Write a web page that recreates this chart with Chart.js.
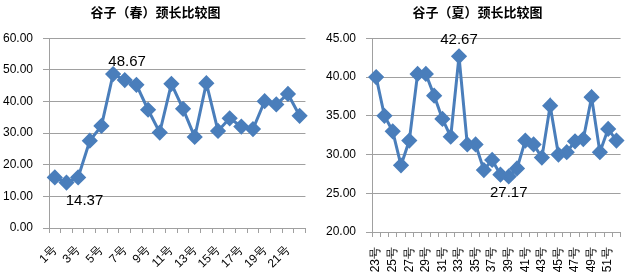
<!DOCTYPE html>
<html>
<head>
<meta charset="utf-8">
<script src="https://cdn.jsdelivr.net/npm/chart.js@4"></script>
<style>
  body { margin: 0; background: #fff; }
  .box { position: absolute; top: 0; height: 279px; }
  #b1 { left: 0; width: 320px; }
  #b2 { left: 320px; width: 321px; }
</style>
</head>
<body>
<div class="box" id="b1"><canvas id="chartSpring"></canvas></div>
<div class="box" id="b2"><canvas id="chartSummer"></canvas></div>
<script>
const springLabels = ["1号", "2号", "3号", "4号", "5号", "6号", "7号", "8号", "9号", "10号", "11号",
  "12号", "13号", "14号", "15号", "16号", "17号", "18号", "19号", "20号", "21号", "22号"];
const springValues = [16.0, 14.37, 16.0, 27.6, 32.3, 48.67, 46.8, 45.3, 37.4, 30.2, 45.6,
  37.7, 28.8, 45.8, 30.7, 34.7, 32.1, 31.3, 40.1, 39.1, 42.4, 35.5];

const summerLabels = ["23号", "24号", "25号", "26号", "27号", "28号", "29号", "30号", "31号", "32号",
  "33号", "34号", "35号", "36号", "37号", "38号", "39号", "40号", "41号", "42号",
  "43号", "44号", "45号", "46号", "47号", "48号", "49号", "50号", "51号", "52号"];
const summerValues = [40.0, 35.0, 33.0, 28.6, 31.8, 40.4, 40.4, 37.6, 34.6, 32.3,
  42.67, 31.3, 31.3, 28.0, 29.3, 27.4, 27.17, 28.2, 31.8, 31.3,
  29.6, 36.3, 30.0, 30.3, 31.7, 32.0, 37.4, 30.3, 33.3, 31.8];

const springAxis = [0, 60, 10];   // min, max, step
const summerAxis = [20, 45, 5];

const blue = "#4A7EBB";
const gray = "#a0a0a0";

// labels for the highest and lowest point
const extremeLabels = {
  id: "extremeLabels",
  afterDatasetsDraw(chart, args, opts) {
    const meta = chart.getDatasetMeta(0);
    const vals = chart.data.datasets[0].data;
    const hi = vals.indexOf(Math.max(...vals));
    const lo = vals.indexOf(Math.min(...vals));
    const ctx = chart.ctx;
    ctx.save();
    ctx.font = '15px "Liberation Sans"';
    ctx.fillStyle = "#000";
    ctx.textAlign = "center";
    ctx.textBaseline = "middle";
    [[hi, opts.hi], [lo, opts.lo]].forEach(([i, o]) => {
      const p = meta.data[i];
      ctx.fillText(vals[i].toFixed(2), p.x + o[0], p.y + o[1]);
    });
    ctx.restore();
  },
};

function makeChart(id, title, labels, values, axis, cfg) {
  return new Chart(document.getElementById(id), {
    type: "line",
    data: {
      labels: labels,
      datasets: [
        {
          data: values,
          borderColor: blue,
          backgroundColor: blue,
          borderWidth: 3,
          pointStyle: "rectRot",
          pointRadius: 6,
          pointHoverRadius: 6,
          tension: 0,
        },
      ],
    },
    options: {
      responsive: true,
      maintainAspectRatio: false,
      animation: false,
      layout: { padding: { left: 0, right: cfg.right, top: 0, bottom: 0 } },
      scales: {
        x: {
          offset: true,
          grid: { drawOnChartArea: false, offset: true, tickLength: 5, color: gray },
          border: { color: gray },
          ticks: {
            autoSkip: false,
            maxRotation: cfg.rot,
            minRotation: cfg.rot,
            padding: cfg.xpad,
            color: "#000",
            font: { family: "Liberation Sans", size: 12 },
            callback: function (v, i) {
              return i % 2 === 0 ? this.getLabelForValue(v) : "";
            },
          },
          afterFit: (s) => { s.height = cfg.xh; },
        },
        y: {
          min: axis[0],
          max: axis[1],
          grid: { color: gray, tickLength: 6 },
          border: { color: gray },
          ticks: {
            stepSize: axis[2],
            padding: 10,
            color: "#000",
            font: { family: "Liberation Sans", size: 12 },
            callback: (v) => v.toFixed(2),
          },
          afterFit: (s) => { s.width = cfg.yw; },
        },
      },
      plugins: {
        legend: { display: false },
        tooltip: { enabled: false },
        title: {
          display: true,
          text: title,
          color: "#000",
          font: { family: "Noto Sans CJK SC", size: 13, weight: "bold" },
          padding: { top: 4, bottom: 18.7 },
        },
        extremeLabels: { hi: cfg.hi, lo: cfg.lo },
      },
    },
    plugins: [extremeLabels],
  });
}

document.addEventListener("DOMContentLoaded", () => {
  makeChart("chartSpring", "谷子（春）颈长比较图", springLabels, springValues, springAxis,
    { right: 9, yw: 49, xh: 51, rot: 45, xpad: 10, hi: [14, -12], lo: [18, 18] });
  makeChart("chartSummer", "谷子（夏）颈长比较图", summerLabels, summerValues, summerAxis,
    { right: 6, yw: 52, xh: 47, rot: 90, xpad: 10, hi: [0, -16], lo: [0, 16] });
});
</script>
</body>
</html>
